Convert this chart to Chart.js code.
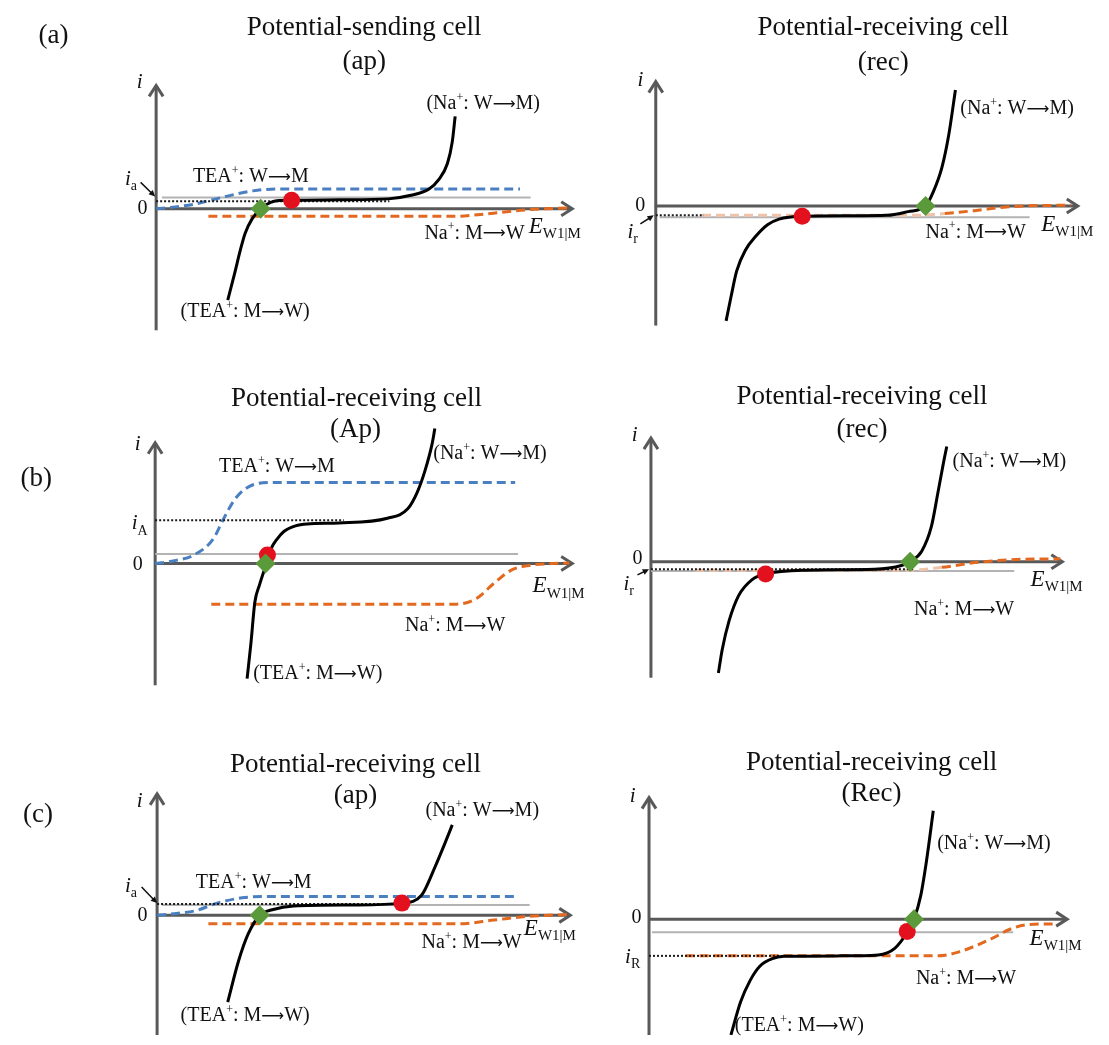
<!DOCTYPE html>
<html><head><meta charset="utf-8">
<script src="https://cdn.jsdelivr.net/npm/chart.js@4.4.0/dist/chart.umd.min.js"></script>
<style>
html,body{margin:0;padding:0;background:#fff;}
#fig{position:relative;width:1109px;height:1045px;overflow:hidden;background:#fff;}
#fig canvas{position:absolute;}
</style></head><body><div id="fig"></div>
<script>
// ---------- data: [E (a.u.), i (a.u.)] ----------
// (a) left: potential-sending cell (ap)
const aLeftNet  = [[74,-97],[81,-69],[87,-44],[92,-26],[99,-11],[108,0],[115,5],[122,8],[140,9],[190,9.5],[240,10.5],[262,14],[282,21],[292,31],[301,48],[306,71],[309,98]];
const aLeftTEA  = [[0,0],[20,2],[40,5],[60,10],[80,15],[100,19],[125,21],[376,21]];
const aLeftNa   = [[54,-8],[310,-8],[335,-6],[355,-4],[385,-1],[428,1]];
const aLeftBase = [[6,12],[387,12]];
const aLeftRef  = [[0,8],[241,8]];
const aLeftOp   = [[140,9]];
const aLeftZero = [[108,0]];
// (a) right: potential-receiving cell (rec)
const aRightNet  = [[73,-122],[78,-97],[84,-69],[93,-47],[104,-32],[116,-20],[128,-14],[152,-11],[200,-10.5],[240,-10],[262,-6],[280,0],[288,15],[297,41],[304,75],[311,123]];
const aRightNa   = [[48,-10],[270,-10],[300,-8],[331,-5],[364,-1],[431,1]];
const aRightBase = [[4,-12],[388,-12]];
const aRightRef  = [[0,-10],[50,-10]];
const aRightOp   = [[152,-11]];
const aRightZero = [[280,0]];
// (b) left: potential-receiving cell (Ap)
const bLeftNet  = [[95,-122],[99,-84],[103,-41],[108,-22],[114,-3],[120,16],[126,26],[133,34],[145,40],[157,42],[190,43],[240,48],[261,58],[271,76],[279,99],[286,126],[289,143]];
const bLeftTEA  = [[0,0],[20,3],[40,9],[60,26],[70,46],[83,69],[100,83],[123,86],[372,86]];
const bLeftNa   = [[58,-43],[311,-43],[332,-37],[350,-21],[368,-7],[386,-2],[410,0],[428,0.5]];
const bLeftBase = [[0,10],[375,10]];
const bLeftRef  = [[0,46],[195,46]];
const bLeftOp   = [[116,9]];
const bLeftZero = [[114,0]];
// (b) right: potential-receiving cell (rec)
const bRightNet  = [[70,-118],[74,-93],[81,-63],[91,-36],[105,-19],[119,-13],[162,-9],[232,-8],[260,-4],[269,0],[281,11],[291,37],[298,74],[304,107],[307,122]];
const bRightNa   = [[46,-9],[267,-9],[302,-6],[337,-1],[372,2],[425,3]];
const bRightBase = [[0,-10],[377,-10]];
const bRightRef  = [[0,-8],[274,-8]];
const bRightOp   = [[119,-13]];
const bRightZero = [[269,0]];
// (c) left: potential-receiving cell (ap)
const cLeftNet  = [[73,-92],[84,-49],[94,-20],[106,0],[119,6],[141,10],[205,11],[253,13],[273,21],[287,51],[298,78],[305,96]];
const cLeftTEA  = [[0,0],[20,2],[40,5],[62,13],[91,19],[119,20],[371,20]];
const cLeftNa   = [[53,-9],[312,-9],[348,-5],[384,-1],[428,1]];
const cLeftBase = [[5,11],[385,11]];
const cLeftRef  = [[0,12],[230,12]];
const cLeftOp   = [[253,13]];
const cLeftZero = [[106,0]];
// (c) right: potential-receiving cell (Rec)
const cRightNet  = [[85,-123],[95,-88],[105,-65],[115,-50],[128,-42],[140,-39.5],[200,-39],[238,-38],[255,-31],[268,-14],[275,0],[282,25],[288,62],[295,115]];
const cRightNa   = [[38,-39],[300,-39],[321,-35],[357,-20],[374,-11],[392,-6],[423,-5]];
const cRightBase = [[3,-14],[378,-14]];
const cRightRef  = [[0,-39],[135,-39]];
const cRightOp   = [[268,-13]];
const cRightZero = [[275,0]];

// ---------- text ----------
const titleSend = 'Potential-sending cell';
const titleRecv = 'Potential-receiving cell';
const lblTEAin  = 'TEA^{+}: W→M';
const lblTEAout = '(TEA^{+}: M→W)';
const lblNaIn   = '(Na^{+}: W→M)';
const lblNaOut  = 'Na^{+}: M→W';
const lblE      = 'E_{W1|M}';

// ---------- styles ----------
const FONT = '"Liberation Serif","Times New Roman",serif';
const ARROW_FONT = '"DejaVu Sans",sans-serif';
const TEXT = '#111';
const AXIS = '#595959';
const BLUE = '#4a7fc0';
const ORANGE = '#e2691f';
const ORANGE_FADE = '#efc3aa';
const GRAY = '#b3b3b3';
const RED = '#e3101e';
const GREEN = '#5b9a3b';

function T(t, x, y, o) { return Object.assign({t, x, y, size: 20, align: 'center', italic: false}, o || {}); }
const TITLE = {size: 27};
const LAB = {size: 27};
const AXI = {size: 21, italic: true};
const ZERO = {size: 20};
const EL = {size: 23, italic: true, align: 'left'};

const panels = [
  { box:[0,0,620,345], origin:[151,211], axis:{top:132,bottom:-129,tip:431},
    net:aLeftNet, tea:aLeftTEA, na:aLeftNa, base:aLeftBase, ref:aLeftRef, op:aLeftOp, zero:aLeftZero, fade:null,
    texts:[T(titleSend,215,192,TITLE),T('(ap)',215,156,TITLE),T('(a)',-106,184,LAB),T('i',-17,134,AXI),T('0',-14,0,ZERO),
      T('i_{a}',-26,31,AXI),T(lblTEAin,38,34,{align:'left'}),T(lblNaIn,338,111),T(lblNaOut,329,-26),T(lblE,385,-19,EL),T(lblTEAout,92,-109)],
    arrows:[[-16,28,-1,13]] },
  { box:[560,0,549,345], origin:[649,208], axis:{top:133,bottom:-127,tip:439},
    net:aRightNet, tea:null, na:aRightNa, base:aRightBase, ref:aRightRef, op:aRightOp, zero:aRightZero, fade:272,
    texts:[T(titleRecv,236,189,TITLE),T('(rec)',236,152,TITLE),T('i',-16,133,AXI),T('0',-16,0,ZERO),T('i_{r}',-24,-28,AXI),
      T(lblNaIn,375,103),T(lblNaOut,332,-28),T(lblE,400,-20,EL)],
    arrows:[[-16,-19,-2,-10]] },
  { box:[0,345,620,355], origin:[150,566], axis:{top:129,bottom:-129,tip:432},
    net:bLeftNet, tea:bLeftTEA, na:bLeftNa, base:bLeftBase, ref:bLeftRef, op:bLeftOp, zero:bLeftZero, fade:null,
    texts:[T(titleRecv,208,175,TITLE),T('(Ap)',207,142,TITLE),T('(b)',-123,90,LAB),T('i',-18,126,AXI),T('i_{A}',-16,42,AXI),T('0',-18,-1,ZERO),
      T(lblTEAin,66,103,{align:'left'}),T(lblNaIn,346,116),T(lblNaOut,310,-66),T(lblE,390,-24,EL),T(lblTEAout,168,-117)],
    arrows:[] },
  { box:[560,345,549,355], origin:[644,564], axis:{top:132,bottom:-123,tip:428},
    net:bRightNet, tea:null, na:bRightNa, base:bRightBase, ref:bRightRef, op:bRightOp, zero:bRightZero, fade:268,
    texts:[T(titleRecv,219,175,TITLE),T('(rec)',219,140,TITLE),T('i',-17,134,AXI),T('0',-14,3,ZERO),T('i_{r}',-23,-24,AXI),
      T(lblNaIn,372,106),T(lblNaOut,325,-51),T(lblE,394,-19,EL)],
    arrows:[[-14,-14,-2,-8]] },
  { box:[0,700,620,345], origin:[152,918], axis:{top:130,bottom:-127,tip:428},
    net:cLeftNet, tea:cLeftTEA, na:cLeftNa, base:cLeftBase, ref:cLeftRef, op:cLeftOp, zero:cLeftZero, fade:null,
    texts:[T(titleRecv,205,160,TITLE),T('(ap)',205,127,TITLE),T('(c)',-123,107,LAB),T('i',-18,121,AXI),T('0',-15,0,ZERO),T('i_{a}',-27,31,AXI),
      T(lblTEAin,40,35,{align:'left'}),T(lblNaIn,336,111),T(lblNaOut,325,-29),T(lblE,379,-14,EL),T(lblTEAout,91,-107)],
    arrows:[[-16,30,0,13]] },
  { box:[560,700,549,345], origin:[642,922], axis:{top:130,bottom:-123,tip:435},
    net:cRightNet, tea:null, na:cRightNa, base:cRightBase, ref:cRightRef, op:cRightOp, zero:cRightZero, fade:null,
    texts:[T(titleRecv,231,166,TITLE),T('(Rec)',231,133,TITLE),T('i',-17,130,AXI),T('0',-13,1,ZERO),T('i_{R}',-17,-41,AXI),
      T(lblNaIn,358,80),T(lblNaOut,329,-63),T(lblE,395,-21,EL),T(lblTEAout,156,-113)],
    arrows:[] }
];

function richText(ctx, o, x, y) {
  const size = o.size, italic = o.italic, str = o.t;
  const raw = []; const re = /([_^])\{([^}]*)\}/g; let last = 0, m;
  while ((m = re.exec(str))) {
    if (m.index > last) raw.push({t: str.slice(last, m.index), k: 'n'});
    raw.push({t: m[2], k: m[1] === '^' ? 'sup' : 'sub'}); last = re.lastIndex;
  }
  if (last < str.length) raw.push({t: str.slice(last), k: 'n'});
  const runs = [];
  raw.forEach(r => {
    if (r.k !== 'n') { runs.push(r); return; }
    r.t.split(/(→)/).forEach(s => { if (s) runs.push({t: s === '→' ? '\u27F6' : s, k: s === '→' ? 'arr' : 'n'}); });
  });
  const fontFor = r => r.k === 'n' ? `${italic ? 'italic ' : ''}${size}px ${FONT}`
    : r.k === 'arr' ? `${Math.round(size * 0.8)}px ${ARROW_FONT}`
    : `${Math.round(size * (r.k === 'sup' ? 0.6 : 0.66))}px ${FONT}`;
  let w = 0;
  runs.forEach(r => { ctx.font = fontFor(r); r.w = ctx.measureText(r.t).width; w += r.w; });
  let cx = o.align === 'center' ? x - w / 2 : o.align === 'right' ? x - w : x;
  ctx.textBaseline = 'middle'; ctx.textAlign = 'left'; ctx.fillStyle = TEXT;
  runs.forEach(r => {
    ctx.font = fontFor(r);
    const dy = r.k === 'sup' ? -size * 0.3 : r.k === 'sub' ? size * 0.33 : r.k === 'arr' ? 1 : 0;
    ctx.fillText(r.t, cx, y + dy); cx += r.w;
  });
}

function makePlugin(p) {
  return {
    id: 'figure',
    beforeDatasetsDraw(chart) {
      const ctx = chart.ctx, xs = chart.scales.x, ys = chart.scales.y;
      const X = v => xs.getPixelForValue(v), Y = v => ys.getPixelForValue(v);
      const a = p.axis;
      ctx.save();
      ctx.strokeStyle = AXIS; ctx.lineWidth = 3; ctx.lineJoin = 'miter'; ctx.lineCap = 'butt';
      ctx.beginPath(); ctx.moveTo(X(0), Y(a.bottom)); ctx.lineTo(X(0), Y(a.top) + 2); ctx.stroke();
      ctx.beginPath(); ctx.moveTo(X(0) - 7, Y(a.top) + 12); ctx.lineTo(X(0), Y(a.top) + 1); ctx.lineTo(X(0) + 7, Y(a.top) + 12); ctx.stroke();
      ctx.beginPath(); ctx.moveTo(X(0) - 1, Y(0)); ctx.lineTo(X(a.tip) - 2, Y(0)); ctx.stroke();
      ctx.beginPath(); ctx.moveTo(X(a.tip) - 12, Y(0) - 7); ctx.lineTo(X(a.tip) - 1, Y(0)); ctx.lineTo(X(a.tip) - 12, Y(0) + 7); ctx.stroke();
      ctx.restore();
    },
    afterDatasetsDraw(chart) {
      const ctx = chart.ctx, xs = chart.scales.x, ys = chart.scales.y;
      const X = v => xs.getPixelForValue(v), Y = v => ys.getPixelForValue(v);
      ctx.save();
      p.texts.forEach(t => richText(ctx, t, X(t.x), Y(t.y)));
      p.arrows.forEach(([x1, y1, x2, y2]) => {
        const ax = X(x1), ay = Y(y1), bx = X(x2), by = Y(y2);
        const ang = Math.atan2(by - ay, bx - ax);
        ctx.strokeStyle = '#111'; ctx.fillStyle = '#111'; ctx.lineWidth = 1.5;
        ctx.beginPath(); ctx.moveTo(ax, ay); ctx.lineTo(bx - 4 * Math.cos(ang), by - 4 * Math.sin(ang)); ctx.stroke();
        ctx.beginPath(); ctx.moveTo(bx, by);
        ctx.lineTo(bx - 7 * Math.cos(ang - 0.45), by - 7 * Math.sin(ang - 0.45));
        ctx.lineTo(bx - 7 * Math.cos(ang + 0.45), by - 7 * Math.sin(ang + 0.45));
        ctx.closePath(); ctx.fill();
      });
      ctx.restore();
    }
  };
}

const pts = arr => arr.map(([x, y]) => ({x, y}));
const fig = document.getElementById('fig');

panels.forEach(p => {
  const [L, Tp, W, H] = p.box, [ox, oy] = p.origin;
  const cv = document.createElement('canvas');
  cv.width = W; cv.height = H;
  cv.style.left = L + 'px'; cv.style.top = Tp + 'px';
  cv.style.width = W + 'px'; cv.style.height = H + 'px';
  fig.appendChild(cv);
  const ds = [];
  ds.push({data: pts(p.zero), showLine: false, pointStyle: 'rectRot', pointRadius: 10, pointBackgroundColor: GREEN, pointBorderColor: GREEN, pointBorderWidth: 0});
  ds.push({data: pts(p.op), showLine: false, pointStyle: 'circle', pointRadius: 8.5, pointBackgroundColor: RED, pointBorderColor: RED, pointBorderWidth: 0});
  ds.push({data: pts(p.net), borderColor: '#000', borderWidth: 3, cubicInterpolationMode: 'monotone', pointRadius: 0, fill: false});
  ds.push({data: pts(p.ref), borderColor: '#1a1a1a', borderWidth: 2, borderDash: [2, 2], pointRadius: 0, fill: false});
  if (p.tea) ds.push({data: pts(p.tea), borderColor: BLUE, borderWidth: 3, borderDash: [9, 5], cubicInterpolationMode: 'monotone', pointRadius: 0, fill: false});
  const naDs = {data: pts(p.na), borderColor: ORANGE, borderWidth: 3, borderDash: [9, 5], cubicInterpolationMode: 'monotone', pointRadius: 0, fill: false};
  if (p.fade != null) naDs.segment = {borderColor: c => c.p0.parsed.x < p.fade ? ORANGE_FADE : ORANGE};
  ds.push(naDs);
  ds.push({data: pts(p.base), borderColor: GRAY, borderWidth: 2, pointRadius: 0, fill: false});
  new Chart(cv, {
    type: 'line',
    data: {datasets: ds},
    options: {
      responsive: false, animation: false, events: [],
      layout: {padding: 0},
      plugins: {legend: {display: false}, tooltip: {enabled: false}, title: {display: false}},
      scales: {
        x: {type: 'linear', display: false, min: L - ox, max: L + W - ox},
        y: {type: 'linear', display: false, min: oy - (Tp + H), max: oy - Tp}
      }
    },
    plugins: [makePlugin(p)]
  });
});
</script></body></html>
